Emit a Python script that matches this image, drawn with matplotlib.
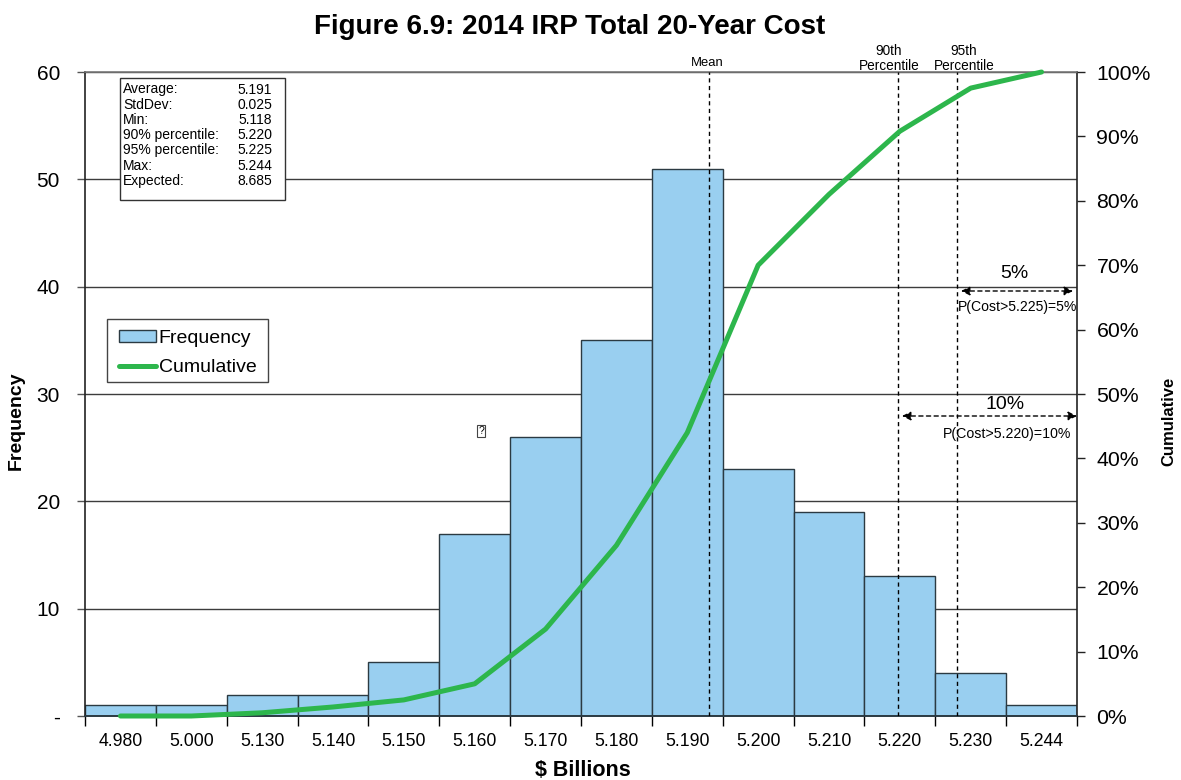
import matplotlib
matplotlib.use("Agg")
import numpy as np
import matplotlib.pyplot as plt
from matplotlib.lines import Line2D
from matplotlib.patches import Patch, Rectangle, FancyArrowPatch

plt.rcParams['font.family'] = ['Liberation Sans', 'DejaVu Sans']

bins = ['4.980', '5.000', '5.130', '5.140', '5.150', '5.160', '5.170',
        '5.180', '5.190', '5.200', '5.210', '5.220', '5.230', '5.244']
frequency = [1, 1, 2, 2, 5, 17, 26, 35, 51, 23, 19, 13, 4, 1]
cumulative = [0, 0, 0.5, 1.4, 2.5, 5, 13.5, 26.5, 44, 70, 81, 90.8, 97.5, 100]

stat_names = ['Average:', 'StdDev:', 'Min:', '90% percentile:', '95% percentile:', 'Max:', 'Expected:']
stat_values = ['5.191', '0.025', '5.118', '5.220', '5.225', '5.244', '8.685']

# where the marker lines sit, in bin positions
marker_pos = [8.306, 10.97, 11.81]
marker_names = ['Mean', '90th\nPercentile', '95th\nPercentile']

W, H = 1181, 780
L, R, T, B = 85, 1077, 72, 716
BAR = '#99CFF0'
EDGE = '#2B3A42'
GREEN = '#2DB64C'
GRID = '#3C3C3C'


def fx(px):
    return px / W


def fy(py):
    return 1 - py / H


fig = plt.figure(figsize=(W / 100, H / 100), dpi=100)
ax = fig.add_axes([fx(L), fy(B), (R - L) / W, (B - T) / H])
x = np.arange(len(bins))

ax.bar(x, frequency, width=1.0, color=BAR, edgecolor=EDGE, linewidth=1.0, zorder=2)
ax.set_xlim(-0.5, len(bins) - 0.5)
ax.set_ylim(0, 60)
ax.set_yticks(range(0, 61, 10))
ax.set_yticklabels(['-', '10', '20', '30', '40', '50', '60'], fontsize=15)
ax.yaxis.grid(True, color=GRID, linewidth=1.0, zorder=0)
ax.set_axisbelow(True)
ax.tick_params(axis='y', length=6, width=1, color='#555555', pad=12)

# ticks at bin edges, labels at bin centres
ax.set_xticks(np.append(-0.5, x + 0.5))
ax.set_xticklabels([])
ax.set_xticks(x, minor=True)
ax.set_xticklabels(bins, minor=True, fontsize=12.7)
ax.tick_params(axis='x', which='major', length=7, width=1, color='black')
ax.tick_params(axis='x', which='minor', length=0, pad=12)

for s in ['left', 'right']:
    ax.spines[s].set_color('#222222')
    ax.spines[s].set_linewidth(1.2)
ax.spines['top'].set_color('#777777')
ax.spines['top'].set_linewidth(1.2)
ax.spines['bottom'].set_color(EDGE)
ax.spines['bottom'].set_linewidth(1.4)

for pos in marker_pos:
    ax.axvline(pos, color='black', linestyle=(0, (3, 2.5)), linewidth=1, zorder=3)

ax2 = ax.twinx()
ax2.plot(x, cumulative, color=GREEN, linewidth=3.6, solid_capstyle='round', zorder=4, clip_on=False)
ax2.set_ylim(0, 100)
ax2.set_yticks(range(0, 101, 10))
ax2.set_yticklabels([str(v) + '%' for v in range(0, 101, 10)], fontsize=15.3)
ax2.tick_params(axis='y', length=6, width=1, color='#222222', pad=8)
for s in ax2.spines.values():
    s.set_visible(False)

fig.text(fx(570), fy(27), 'Figure 6.9: 2014 IRP Total 20-Year Cost', fontsize=20,
         fontweight='bold', ha='center', va='center')
fig.text(fx(583), fy(771), '$ Billions', fontsize=15.5, fontweight='bold', ha='center', va='center')
fig.text(fx(16), fy(421), 'Frequency', fontsize=14, fontweight='bold', rotation=90, ha='center', va='center')
fig.text(fx(1169), fy(421), 'Cumulative', fontsize=12, fontweight='bold', rotation=90, ha='center', va='center')

# marker captions above the plot
fig.text(fx(707), fy(69), marker_names[0], fontsize=9.4, ha='center', va='bottom')
fig.text(fx(889), fy(73), marker_names[1], fontsize=9.8, ha='center', va='bottom', linespacing=1.05)
fig.text(fx(964), fy(73), marker_names[2], fontsize=9.8, ha='center', va='bottom', linespacing=1.05)

# stats box
fig.add_artist(Rectangle((fx(120), fy(200)), 165 / W, 122 / H, transform=fig.transFigure,
                         facecolor='white', edgecolor='#333333', linewidth=1, zorder=2))
for i in range(len(stat_names)):
    row = fy(89.5 + i * 15.2)
    fig.text(fx(123), row, stat_names[i], fontsize=10, va='center', ha='left')
    fig.text(fx(272), row, stat_values[i], fontsize=10, va='center', ha='right')

# legend, the box is drawn apart so its height can be set
ax2.add_patch(Rectangle((fx(107), fy(382)), 161 / W, 63 / H, transform=fig.transFigure,
                        facecolor='white', edgecolor='#444444', linewidth=1, zorder=5, clip_on=False))
handles = [Patch(facecolor=BAR, edgecolor=EDGE, linewidth=1.0),
           Line2D([0], [0], color=GREEN, linewidth=3.6, solid_capstyle='round')]
leg = ax2.legend(handles, ['Frequency', 'Cumulative'], loc='upper left',
                 bbox_to_anchor=(fx(107), fy(318)), bbox_transform=fig.transFigure,
                 fontsize=14, frameon=False,
                 borderaxespad=0, borderpad=0.6, handlelength=1.9, handletextpad=0.15,
                 labelspacing=0.65, handleheight=0.6)
leg.set_zorder(6)

# probability arrows
arrow = dict(arrowstyle='<|-|>', linestyle=(0, (3, 2.5)), color='black', linewidth=1,
             shrinkA=0, shrinkB=0, mutation_scale=13)
fig.add_artist(FancyArrowPatch((fx(961), fy(291)), (fx(1073), fy(291)),
                               transform=fig.transFigure, zorder=3, **arrow))
fig.add_artist(FancyArrowPatch((fx(902), fy(416)), (fx(1077), fy(416)),
                               transform=fig.transFigure, zorder=3, **arrow))
fig.text(fx(1014), fy(274), '5%', fontsize=14, ha='center', va='center')
fig.text(fx(1005), fy(404), '10%', fontsize=14, ha='center', va='center')
fig.text(fx(958), fy(307), 'P(Cost>5.225)=5%', fontsize=10.1, ha='left', va='center')
fig.text(fx(943), fy(434), 'P(Cost>5.220)=10%', fontsize=10.2, ha='left', va='center')

# stray placeholder glyph in the source
fig.text(fx(481), fy(431), '?', fontsize=7.5, ha='center', va='center',
         bbox=dict(boxstyle='square,pad=0.12', facecolor='white', edgecolor='#444444', linewidth=0.8))

fig.savefig('out.png', dpi=100)
